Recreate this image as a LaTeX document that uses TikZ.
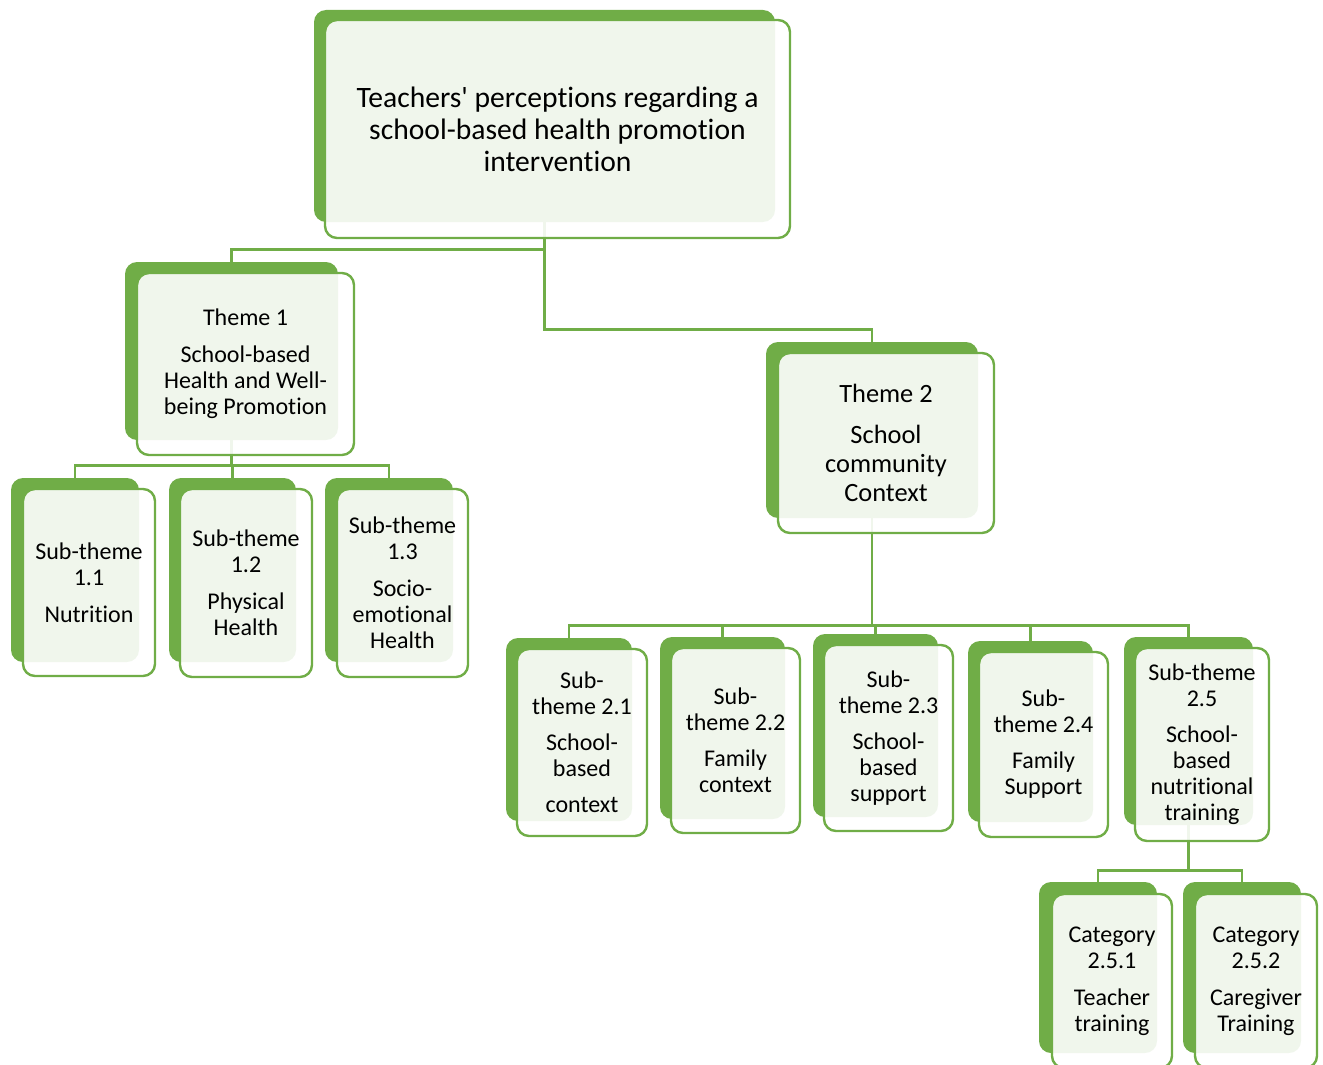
\documentclass[tikz,border=0pt]{standalone}
\usepackage{fontspec}
\setmainfont{Carlito}[Ligatures=NoCommon]
\usetikzlibrary{backgrounds}
\definecolor{accgreen}{HTML}{70AD47}

\begin{document}
\begin{tikzpicture}[x=0.5pt, y=-0.5pt,
        backbox/.style={fill=accgreen, rounded corners=6pt, inner sep=0pt},
        frontbox/.style={draw=accgreen, line width=1.2pt, fill=white, fill opacity=0.9,
            text opacity=1, rounded corners=6pt, align=center, inner sep=0pt,
            font=\fontsize{12}{13}\selectfont},
        link/.style={draw=accgreen, line width=1.1pt}]
        \useasboundingbox (0,0) rectangle (1323,1065);

        % main topic
        \node[backbox, minimum width=230.5pt, minimum height=106pt] (topB) at (544.5,116) {};
        \node[frontbox, minimum width=232.5pt, minimum height=109pt, font=\fontsize{14.8}{16}\selectfont]
            (top) at (557.5,129) {Teachers\textquotesingle{} perceptions regarding a\\school-based health promotion\\intervention};

        % themes
        \node[backbox, minimum width=106.5pt, minimum height=89pt] (t1B) at (231.5,351) {};
        \node[frontbox, minimum width=108.5pt, minimum height=91pt]
            (t1) at (245.5,364) {Theme 1\\[5.5pt] School-based\\Health and Well-\\being Promotion};
        \node[backbox, minimum width=106pt, minimum height=88pt] (t2B) at (872,430) {};
        \node[frontbox, minimum width=108pt, minimum height=90pt, font=\fontsize{13.2}{14.5}\selectfont]
            (t2) at (886,443) {Theme 2\\[6pt] School\\community\\Context};

        % sub-themes of theme 1
        \node[backbox, minimum width=64pt, minimum height=92pt] (s11B) at (75,570) {};
        \node[frontbox, minimum width=66pt, minimum height=93.5pt]
            (s11) at (89,582.5) {Sub-theme\\1.1\\[5.5pt] Nutrition};
        \node[backbox, minimum width=63.5pt, minimum height=92pt] (s12B) at (232.5,570) {};
        \node[frontbox, minimum width=66pt, minimum height=94pt]
            (s12) at (246,583) {Sub-theme\\1.2\\[5.5pt] Physical\\Health};
        \node[backbox, minimum width=64pt, minimum height=92pt] (s13B) at (389,570) {};
        \node[frontbox, minimum width=65.5pt, minimum height=94pt]
            (s13) at (402.5,583) {Sub-theme\\1.3\\[5.5pt] Socio-\\emotional\\Health};

        % sub-themes of theme 2
        \node[backbox, minimum width=63pt, minimum height=91.5pt] (s21B) at (569,729.5) {};
        \node[frontbox, minimum width=65pt, minimum height=93.5pt]
            (s21) at (582,742.5) {Sub-\\theme 2.1\\[5pt] School-\\based\\[5pt] context};
        \node[backbox, minimum width=62.5pt, minimum height=91pt] (s22B) at (722.5,728) {};
        \node[frontbox, minimum width=64.5pt, minimum height=92.5pt]
            (s22) at (735.5,740.5) {Sub-\\theme 2.2\\[5pt] Family\\context};
        \node[backbox, minimum width=62.5pt, minimum height=91.5pt] (s23B) at (875.5,725.5) {};
        \node[frontbox, minimum width=64.5pt, minimum height=93pt]
            (s23) at (888.5,738) {Sub-\\theme 2.3\\[5pt] School-\\based\\support};
        \node[backbox, minimum width=62.5pt, minimum height=90.5pt] (s24B) at (1030.5,731.5) {};
        \node[frontbox, minimum width=64.5pt, minimum height=92.5pt]
            (s24) at (1043.5,744.5) {Sub-\\theme 2.4\\[5pt] Family\\Support};
        \node[backbox, minimum width=64.5pt, minimum height=94pt] (s25B) at (1188.5,731) {};
        \node[frontbox, minimum width=67pt, minimum height=96.5pt]
            (s25) at (1202,744.5) {Sub-theme\\2.5\\[5pt] School-\\based\\nutritional\\training};

        % categories of sub-theme 2.5
        \node[backbox, minimum width=59pt, minimum height=85.5pt] (c251B) at (1098,967.5) {};
        \node[frontbox, minimum width=60pt, minimum height=87pt]
            (c251) at (1112,981) {Category\\2.5.1\\[5.5pt] Teacher\\training};
        \node[backbox, minimum width=59pt, minimum height=85.5pt] (c252B) at (1242,967.5) {};
        \node[frontbox, minimum width=61pt, minimum height=87pt]
            (c252) at (1256,981) {Category\\2.5.2\\[5.5pt] Caregiver\\Training};

        % connectors
        \begin{scope}[on background layer]
            \draw[link] (topB.south) -- ++(0,27) -| (t1B.north);
            \draw[link] (topB.south) -- ++(0,107) -| (t2B.north);
            \foreach \s in {s11B,s12B,s13B}
                \draw[link] (t1B.south) -- ++(0,25) -| (\s.north);
            \foreach \s in {s21B,s22B,s23B,s24B,s25B}
                \draw[link] (t2B.south) -- ++(0,107) -| (\s.north);
            \foreach \s in {c251B,c252B}
                \draw[link] (s25B.south) -- ++(0,45) -| (\s.north);
        \end{scope}
\end{tikzpicture}
\end{document}
